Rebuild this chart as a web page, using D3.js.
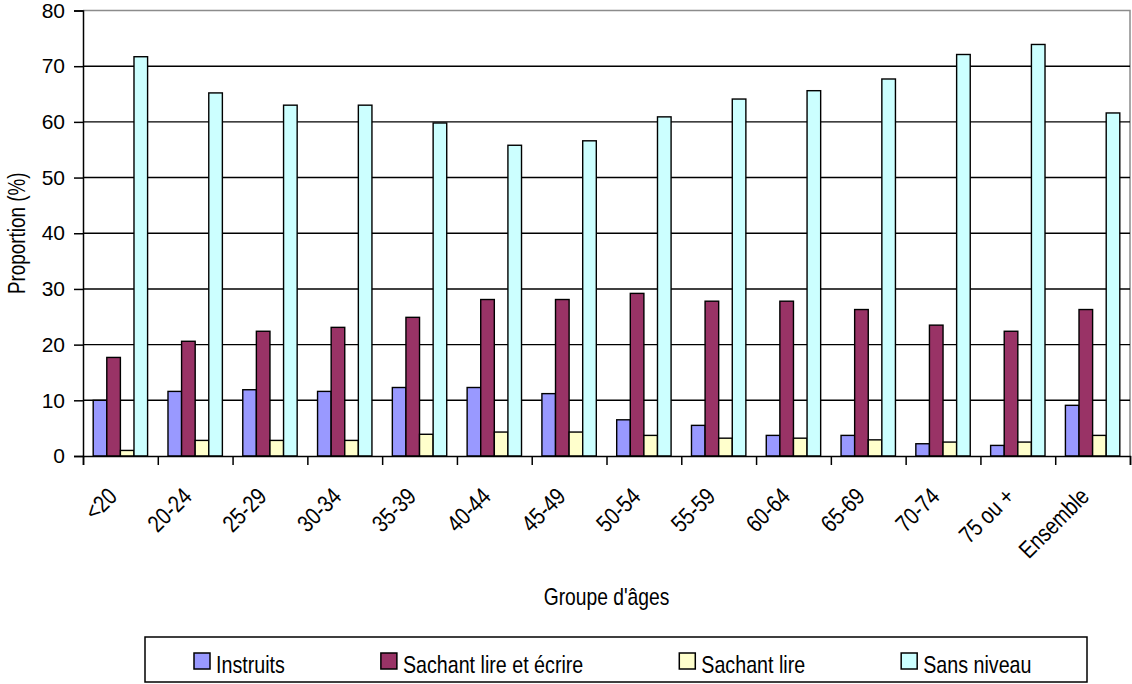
<!DOCTYPE html>
<html>
<head>
<meta charset="utf-8">
<script src="https://cdn.jsdelivr.net/npm/d3@7"></script>
<style>
  html, body { margin: 0; padding: 0; background: #fff; }
  svg { display: block; }
  text { font-family: "Liberation Sans", Arial, sans-serif; fill: #000; }
</style>
</head>
<body>
<svg id="chart" width="1132" height="684"></svg>
<script>
const categories = ["<20", "20-24", "25-29", "30-34", "35-39", "40-44", "45-49", "50-54", "55-59", "60-64", "65-69", "70-74", "75 ou +", "Ensemble"];
const seriesNames = ["Instruits", "Sachant lire et écrire", "Sachant lire", "Sans niveau"];
const instruits      = [10.0, 11.6, 11.9, 11.6, 12.3, 12.3, 11.2, 6.5, 5.5, 3.7, 3.7, 2.2, 1.9, 9.1];
const lireEcrire     = [17.7, 20.6, 22.4, 23.1, 24.9, 28.1, 28.1, 29.2, 27.8, 27.8, 26.3, 23.5, 22.4, 26.3];
const lireSeulement  = [1.0, 2.8, 2.8, 2.8, 3.9, 4.3, 4.3, 3.7, 3.2, 3.2, 2.9, 2.5, 2.5, 3.7];
const sansNiveau     = [71.7, 65.2, 63.0, 63.0, 59.8, 55.8, 56.6, 60.9, 64.1, 65.6, 67.7, 72.1, 73.9, 61.6];
const yTicks = [0, 10, 20, 30, 40, 50, 60, 70, 80];
const colors = ["#9999FF", "#993366", "#FFFFCC", "#CCFFFF"];
const seriesValues = [instruits, lireEcrire, lireSeulement, sansNiveau];

(function () {
const svg = d3.select("#chart");
const pL = 83, pR = 1130, pT = 10.5, pB = 456;
const NARROW = 0.82; // emulate a condensed (Arial Narrow–like) face

const x0 = d3.scaleBand().domain(categories).range([pL, pR]).padding(0);
const bw = x0.bandwidth();
const x1 = d3.scaleBand().domain(seriesNames).range([bw * 0.75 / 5.5, bw * 4.75 / 5.5]).padding(0);
const y = d3.scaleLinear().domain([0, 80]).range([pB, pT]);

// plot border (top/right gray)
svg.append("path")
  .attr("d", `M${pL},${pT}H${pR}V${pB}`)
  .attr("fill", "none").attr("stroke", "#8c8c8c").attr("stroke-width", 1.5);

// gridlines
svg.append("g").selectAll("line").data(yTicks.filter(d => d > 0 && d < 80)).join("line")
  .attr("x1", pL).attr("x2", pR)
  .attr("y1", d => y(d)).attr("y2", d => y(d))
  .attr("stroke", "#000").attr("stroke-width", 1.4);

// bars
const groups = svg.append("g").selectAll("g").data(categories).join("g")
  .attr("transform", d => `translate(${x0(d)},0)`);
groups.selectAll("rect").data((c, i) => seriesNames.map((s, j) => ({ s, j, v: seriesValues[j][i] }))).join("rect")
  .attr("x", d => x1(d.s))
  .attr("width", x1.bandwidth())
  .attr("y", d => y(d.v))
  .attr("height", d => y(0) - y(d.v))
  .attr("fill", d => colors[d.j])
  .attr("stroke", "#000").attr("stroke-width", 1.4);

// y axis
const yAxis = svg.append("g").attr("transform", `translate(${pL},0)`)
  .call(d3.axisLeft(y).tickValues(yTicks).tickSize(9).tickPadding(9).tickFormat(d3.format("d")));
yAxis.attr("font-family", null).attr("font-size", null);
yAxis.select(".domain").attr("stroke", "#000").attr("stroke-width", 1.5);
yAxis.selectAll(".tick line").attr("stroke", "#000").attr("stroke-width", 1.5);
yAxis.selectAll("text").style("font-size", "21px");

// x axis line and ticks at category boundaries
const xAxisScale = d3.scaleLinear().domain([0, categories.length]).range([pL, pR]);
const xAxis = svg.append("g").attr("transform", `translate(0,${pB})`)
  .call(d3.axisBottom(xAxisScale).tickValues(d3.range(categories.length + 1)).tickSize(9).tickFormat(""));
xAxis.select(".domain").attr("stroke", "#000").attr("stroke-width", 1.5);
xAxis.selectAll(".tick line").attr("stroke", "#000").attr("stroke-width", 1.5);

// x tick labels, rotated
svg.append("g").selectAll("text").data(categories).join("text")
  .attr("transform", d => `translate(${x0(d) + bw / 2 - 2},${pB + 42}) rotate(-45) scale(${NARROW},1)`)
  .attr("text-anchor", "end")
  .style("font-size", "24px")
  .text(d => d);

// axis titles
svg.append("text")
  .attr("transform", `translate(25,${(pT + pB) / 2}) rotate(-90) scale(${NARROW},1)`)
  .attr("text-anchor", "middle")
  .style("font-size", "23px")
  .text("Proportion (%)");

svg.append("text")
  .attr("transform", `translate(${(pL + pR) / 2},605) scale(${NARROW},1)`)
  .attr("text-anchor", "middle")
  .style("font-size", "23.5px")
  .text("Groupe d'âges");

// legend
const lg = svg.append("g");
lg.append("rect").attr("x", 145).attr("y", 637).attr("width", 942).attr("height", 45)
  .attr("fill", "#fff").attr("stroke", "#000").attr("stroke-width", 1.5);
let lx = 194;
seriesNames.forEach((s, j) => {
  lg.append("rect").attr("x", lx).attr("y", 653).attr("width", 16).attr("height", 16)
    .attr("fill", colors[j]).attr("stroke", "#000").attr("stroke-width", 1.5);
  const t = lg.append("text")
    .attr("transform", `translate(${lx + 22},673) scale(${NARROW},1)`)
    .style("font-size", "24px").text(s);
  lx = lx + 22 + t.node().getComputedTextLength() * NARROW + 96;
});
})();
</script>
</body>
</html>
